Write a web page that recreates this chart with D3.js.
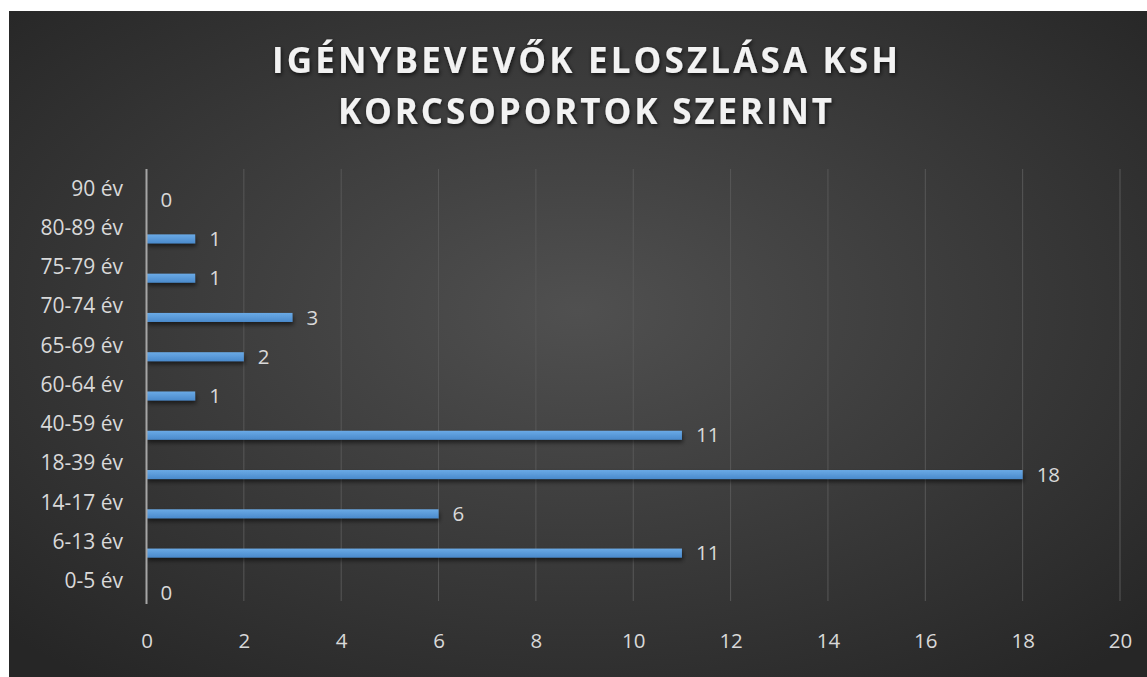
<!DOCTYPE html>
<html>
<head>
<meta charset="utf-8">
<script src="https://cdn.jsdelivr.net/npm/d3@7"></script>
<style>
  body { margin: 0; background: #fff; }
  svg { display: block; }
</style>
</head>
<body>
<script>
// data, top to bottom as shown
const categories = ["90 év", "80-89 év", "75-79 év", "70-74 év", "65-69 év", "60-64 év",
  "40-59 év", "18-39 év", "14-17 év", "6-13 év", "0-5 év"];
const values = [0, 1, 1, 3, 2, 1, 11, 18, 6, 11, 0];
const xTicks = [0, 2, 4, 6, 8, 10, 12, 14, 16, 18, 20];
const titleLines = ["IGÉNYBEVEVŐK ELOSZLÁSA KSH", "KORCSOPORTOK SZERINT"];

const W = 1147, H = 677;
const svg = d3.select("body").append("svg")
  .attr("width", W)
  .attr("height", H);

const defs = svg.append("defs");

// Background gradient
const bg = defs.append("radialGradient")
  .attr("id", "bg")
  .attr("cx", "50%").attr("cy", "45%").attr("r", "70%");
bg.append("stop").attr("offset", "0%").attr("stop-color", "#505050");
bg.append("stop").attr("offset", "100%").attr("stop-color", "#262626");

// Bar gradient
const barGrad = defs.append("linearGradient")
  .attr("id", "barGrad")
  .attr("x1", 0).attr("y1", 0).attr("x2", 0).attr("y2", 1);
barGrad.append("stop").attr("offset", "0%").attr("stop-color", "#6aaae6");
barGrad.append("stop").attr("offset", "100%").attr("stop-color", "#4a8acc");

// Shadows
const shadow = defs.append("filter").attr("id", "shadow")
  .attr("x", "-10%").attr("y", "-50%").attr("width", "120%").attr("height", "250%");
shadow.append("feDropShadow")
  .attr("dx", 1).attr("dy", 3).attr("stdDeviation", 2)
  .attr("flood-color", "#000").attr("flood-opacity", 0.55);

const tShadow = defs.append("filter").attr("id", "tshadow")
  .attr("x", "-5%").attr("y", "-30%").attr("width", "110%").attr("height", "160%");
tShadow.append("feDropShadow")
  .attr("dx", 1).attr("dy", 2).attr("stdDeviation", 2)
  .attr("flood-color", "#000").attr("flood-opacity", 0.7);

svg.append("rect")
  .attr("x", 9).attr("y", 11)
  .attr("width", W - 9).attr("height", H - 11)
  .attr("fill", "url(#bg)");

// Scales
const x = d3.scaleLinear().domain([0, 20]).range([146.5, 1120]);
const y = d3.scaleBand().domain(categories).range([169, 601]).padding(0);

const font = "'Open Sans', 'Noto Sans', sans-serif";
const labelColor = "#d9d9d9";

// Gridlines
svg.append("g")
  .selectAll("line")
  .data(xTicks.slice(1))
  .join("line")
  .attr("x1", d => x(d)).attr("x2", d => x(d))
  .attr("y1", 169).attr("y2", 601)
  .attr("stroke", "#585858")
  .attr("stroke-width", 1);

// Bars
svg.append("g")
  .selectAll("rect")
  .data(categories)
  .join("rect")
  .attr("x", x(0))
  .attr("y", d => y(d) + y.bandwidth() * 0.665)
  .attr("width", (d, i) => x(values[i]) - x(0))
  .attr("height", y.bandwidth() * 0.23)
  .attr("fill", "url(#barGrad)")
  .attr("filter", "url(#shadow)");

// Vertical axis line
svg.append("line")
  .attr("x1", x(0)).attr("x2", x(0))
  .attr("y1", 169).attr("y2", 604)
  .attr("stroke", "#a6a6a6")
  .attr("stroke-width", 2);

// Value labels
svg.append("g")
  .selectAll("text")
  .data(categories)
  .join("text")
  .attr("x", (d, i) => x(values[i]) + 14)
  .attr("y", d => y(d) + y.bandwidth() * 0.78)
  .attr("dy", "0.35em")
  .attr("font-family", font)
  .attr("font-size", 20.5)
  .attr("fill", labelColor)
  .text((d, i) => values[i]);

// Category labels
svg.append("g")
  .selectAll("text")
  .data(categories)
  .join("text")
  .attr("x", 123)
  .attr("y", d => y(d) + y.bandwidth() / 2)
  .attr("dy", "0.33em")
  .attr("text-anchor", "end")
  .attr("font-family", font)
  .attr("font-size", 21)
  .attr("fill", labelColor)
  .text(d => d);

// X axis labels
const xAxis = d3.axisBottom(x).tickValues(xTicks).tickSize(0).tickPadding(0);
const gx = svg.append("g")
  .attr("transform", "translate(0,633)")
  .call(xAxis);
gx.select(".domain").remove();
gx.selectAll("text")
  .attr("font-family", font)
  .attr("font-size", 20.5)
  .attr("fill", labelColor);

// Title
const widths = [626, 494];
svg.append("g")
  .selectAll("text")
  .data(titleLines)
  .join("text")
  .attr("x", 585)
  .attr("y", (d, i) => 73 + i * 51)
  .attr("text-anchor", "middle")
  .attr("font-family", font)
  .attr("font-weight", "bold")
  .attr("font-size", 35)
  .attr("fill", "#f2f2f2")
  .attr("textLength", (d, i) => widths[i])
  .attr("lengthAdjust", "spacing")
  .attr("filter", "url(#tshadow)")
  .text(d => d);
</script>
</body>
</html>
